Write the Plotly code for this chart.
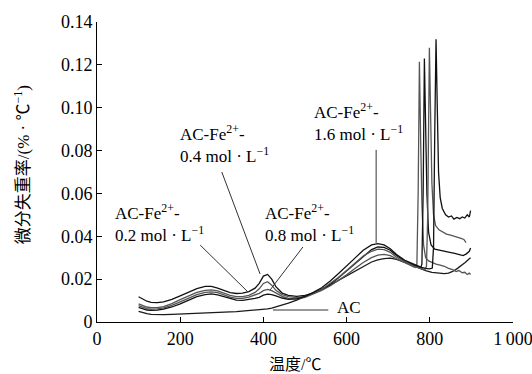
import plotly.graph_objects as go

# ---------------- data ----------------
t_body = [100, 110, 120, 130, 145, 160, 180, 200, 220, 240, 260, 275, 290, 305, 320, 335,
          350, 365, 380, 390, 400, 410, 420, 430, 445, 460, 480, 500, 520, 540, 560, 580,
          600, 620, 640, 660, 675, 690, 705, 720, 740, 760]

ac_body = [0.0050, 0.0044, 0.0039, 0.0036, 0.0034, 0.0034, 0.0036, 0.0038, 0.0040, 0.0042,
           0.0043, 0.0044, 0.0045, 0.0046, 0.0047, 0.0048, 0.0050, 0.0052, 0.0054, 0.0056,
           0.0058, 0.0061, 0.0065, 0.0070, 0.0078, 0.0088, 0.0102, 0.0118, 0.0134, 0.0152,
           0.0172, 0.0194, 0.0216, 0.0240, 0.0262, 0.0280, 0.0290, 0.0296, 0.0298, 0.0292,
           0.0278, 0.0262]
fe02_body = [0.0076, 0.0068, 0.0062, 0.0060, 0.0061, 0.0066, 0.0078, 0.0094, 0.0112, 0.0128,
             0.0138, 0.0141, 0.0137, 0.0127, 0.0116, 0.0110, 0.0110, 0.0116, 0.0126, 0.0134,
             0.0146, 0.0152, 0.0146, 0.0134, 0.0120, 0.0110, 0.0108, 0.0115, 0.0130, 0.0148,
             0.0168, 0.0192, 0.0220, 0.0250, 0.0278, 0.0300, 0.0312, 0.0316, 0.0310, 0.0295,
             0.0275, 0.0258]
fe04_body = [0.0118, 0.0106, 0.0097, 0.0092, 0.0090, 0.0094, 0.0106, 0.0122, 0.0140, 0.0156,
             0.0166, 0.0166, 0.0158, 0.0146, 0.0137, 0.0133, 0.0135, 0.0142, 0.0158, 0.0180,
             0.0214, 0.0222, 0.0200, 0.0165, 0.0135, 0.0124, 0.0120, 0.0124, 0.0135, 0.0152,
             0.0175, 0.0205, 0.0238, 0.0272, 0.0308, 0.0338, 0.0350, 0.0348, 0.0335, 0.0310,
             0.0285, 0.0268]
fe08_body = [0.0085, 0.0076, 0.0070, 0.0067, 0.0067, 0.0072, 0.0086, 0.0104, 0.0122, 0.0138,
             0.0148, 0.0150, 0.0145, 0.0135, 0.0124, 0.0118, 0.0118, 0.0124, 0.0138, 0.0155,
             0.0180, 0.0188, 0.0172, 0.0148, 0.0128, 0.0118, 0.0114, 0.0120, 0.0133, 0.0152,
             0.0178, 0.0208, 0.0240, 0.0275, 0.0308, 0.0330, 0.0340, 0.0338, 0.0325, 0.0302,
             0.0280, 0.0262]
fe16_body = [0.0068, 0.0061, 0.0056, 0.0054, 0.0055, 0.0060, 0.0070, 0.0085, 0.0102, 0.0118,
             0.0128, 0.0131, 0.0127, 0.0118, 0.0108, 0.0102, 0.0101, 0.0104, 0.0110, 0.0115,
             0.0125, 0.0130, 0.0128, 0.0122, 0.0112, 0.0106, 0.0108, 0.0120, 0.0138, 0.0160,
             0.0190, 0.0225, 0.0260, 0.0298, 0.0335, 0.0360, 0.0366, 0.0360, 0.0342, 0.0315,
             0.0288, 0.0272]

ac_tail_t = [775, 790, 805, 820, 835, 845, 855, 865, 875, 885, 895, 898]
ac_tail_v = [0.0252, 0.0240, 0.0232, 0.0228, 0.0226, 0.0228, 0.0236, 0.0248, 0.0262, 0.0278,
             0.0295, 0.0300]

fe02_tail_t = [765, 769, 772, 775, 778, 781, 785, 790, 797, 805, 815, 825, 835, 845, 855, 863,
               870, 878, 884, 890, 895, 898]
fe02_tail_v = [0.0255, 0.0270, 0.0600, 0.1215, 0.0850, 0.0550, 0.0360, 0.0300, 0.0285, 0.0278,
               0.0270, 0.0265, 0.0260, 0.0250, 0.0245, 0.0235, 0.0240, 0.0230, 0.0232, 0.0222,
               0.0228, 0.0222]

fe04_tail_t = [770, 778, 781, 784, 787, 790, 793, 797, 803, 812, 822, 835, 848, 860, 870, 880,
               888, 895, 898]
fe04_tail_v = [0.0258, 0.0252, 0.0270, 0.0600, 0.1230, 0.0900, 0.0600, 0.0420, 0.0360, 0.0340,
               0.0335, 0.0330, 0.0325, 0.0320, 0.0315, 0.0310, 0.0318, 0.0330, 0.0345]

fe08_tail_t = [770, 780, 788, 792, 795, 799, 802, 805, 809, 814, 822, 830, 840, 850, 860, 868,
               875, 882, 887]
fe08_tail_v = [0.0255, 0.0248, 0.0244, 0.0260, 0.0500, 0.1280, 0.0950, 0.0650, 0.0500, 0.0450,
               0.0430, 0.0420, 0.0410, 0.0405, 0.0400, 0.0395, 0.0390, 0.0385, 0.0370]

fe16_tail_t = [770, 780, 790, 800, 806, 809, 812, 815, 818, 821, 825, 830, 838, 845, 852, 858,
               865, 872, 878, 884, 890, 895, 898]
fe16_tail_v = [0.0262, 0.0255, 0.0250, 0.0248, 0.0252, 0.0350, 0.0900, 0.1320, 0.1000, 0.0700,
               0.0580, 0.0530, 0.0500, 0.0490, 0.0495, 0.0480, 0.0488, 0.0482, 0.0490, 0.0485,
               0.0500, 0.0490, 0.0520]

x_tickvals = [0, 200, 400, 600, 800, 1000]
x_ticktext = ["0", "200", "400", "600", "800", "1\u2009000"]
y_tickvals = [0, 0.02, 0.04, 0.06, 0.08, 0.10, 0.12, 0.14]
y_ticktext = ["0", "0.02", "0.04", "0.06", "0.08", "0.10", "0.12", "0.14"]

series = [
    ("AC", ac_body, ac_tail_t, ac_tail_v, "#1a1a1a"),
    ("AC-Fe2+-0.2", fe02_body, fe02_tail_t, fe02_tail_v, "#555555"),
    ("AC-Fe2+-0.4", fe04_body, fe04_tail_t, fe04_tail_v, "#111111"),
    ("AC-Fe2+-0.8", fe08_body, fe08_tail_t, fe08_tail_v, "#555555"),
    ("AC-Fe2+-1.6", fe16_body, fe16_tail_t, fe16_tail_v, "#111111"),
]

SERIF = "Liberation Serif, Times New Roman, serif"
CJK = "Liberation Serif, Noto Sans CJK SC, sans-serif"

fig = go.Figure()
for name, body, tt, tv, col in series:
    fig.add_trace(go.Scatter(x=t_body + tt, y=body + tv, mode="lines", name=name,
                             line=dict(color=col, width=1.3), showlegend=False))

# pointer lines
pointers = [
    (248, 0.0359, 363, 0.0140),
    (300, 0.0700, 392, 0.0224),
    (495, 0.0350, 416, 0.0149),
    (671, 0.0803, 671, 0.0369),
    (423, 0.0056, 556, 0.0056),
]
for x0, y0, x1, y1 in pointers:
    fig.add_shape(type="line", x0=x0, y0=y0, x1=x1, y1=y1, xref="x", yref="y",
                  line=dict(color="#333333", width=1))

labels = [
    (38, 0.0464, "AC-Fe<sup>2+</sup>-<br>0.2 mol · L<sup>−1</sup>"),
    (195, 0.0831, "AC-Fe<sup>2+</sup>-<br>0.4 mol · L<sup>−1</sup>"),
    (398, 0.0464, "AC-Fe<sup>2+</sup>-<br>0.8 mol · L<sup>−1</sup>"),
    (516, 0.0935, "AC-Fe<sup>2+</sup>-<br>1.6 mol · L<sup>−1</sup>"),
    (572, 0.0070, "AC"),
]
for x, y, t in labels:
    fig.add_annotation(x=x, y=y, xref="x", yref="y", text=t, showarrow=False,
                       xanchor="left", yanchor="middle", align="left",
                       font=dict(family=SERIF, size=17, color="black"))

fig.add_annotation(x=-0.18, y=0.523, xref="paper", yref="paper",
                   text="微分失重率/(% · ℃<sup>−1</sup>)", showarrow=False, textangle=-90,
                   xanchor="center", yanchor="middle",
                   font=dict(family=CJK, size=17, color="black"))
fig.add_annotation(x=0.476, y=-0.14, xref="paper", yref="paper",
                   text="温度/℃", showarrow=False, xanchor="center", yanchor="middle",
                   font=dict(family=CJK, size=16, color="black"))

fig.update_layout(
    width=532, height=374,
    margin=dict(l=97, r=19, t=22, b=52, autoexpand=False),
    paper_bgcolor="white", plot_bgcolor="white",
    font=dict(family=SERIF, size=18, color="black"),
    xaxis=dict(range=[0, 1000], tickvals=x_tickvals, ticktext=x_ticktext,
               showline=True, linecolor="black", linewidth=1, ticks="inside",
               ticklen=5, tickcolor="black", showgrid=False, zeroline=False,
               automargin=False, ticklabeloverflow="allow",
               tickfont=dict(family=SERIF, size=18)),
    yaxis=dict(range=[0, 0.14], tickvals=y_tickvals, ticktext=y_ticktext,
               showline=True, linecolor="black", linewidth=1, ticks="inside",
               ticklen=5, tickcolor="black", showgrid=False, zeroline=False,
               automargin=False, ticklabeloverflow="allow",
               tickfont=dict(family=SERIF, size=18)),
)

fig.write_html("out.html", config={"displayModeBar": False},
               post_script="document.body.style.margin='0';document.body.style.padding='0';")
